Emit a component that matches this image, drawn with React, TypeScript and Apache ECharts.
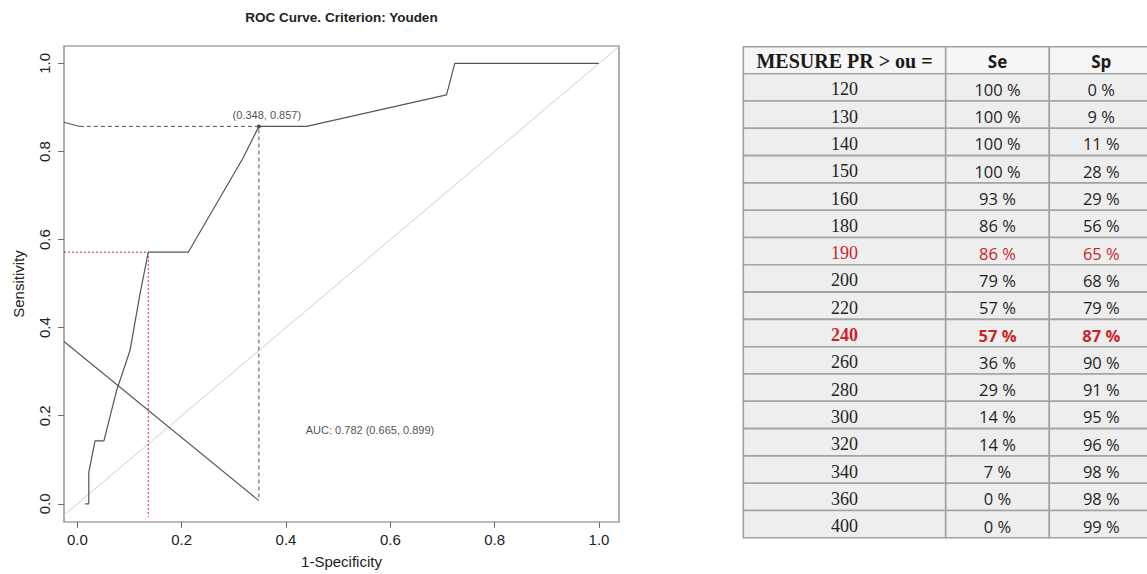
import React, { useEffect, useRef } from "react";
import * as echarts from "echarts";

// ROC curve (x = 1-Specificity, y = Sensitivity)
const rocX = [0.015, 0.022, 0.022, 0.034, 0.051, 0.0755, 0.101, 0.12, 0.136, 0.2126, 0.318, 0.348, 0.4395, 0.7077, 0.7236, 0.9994];
const rocY = [0, 0, 0.0714, 0.1429, 0.1429, 0.258, 0.348, 0.4755, 0.5714, 0.5714, 0.7857, 0.8571, 0.8571, 0.9286, 1.0, 1.0];

// axis range
const xMin = -0.0255;
const xMax = 1.0383;
const yMin = -0.0413;
const yMax = 1.0396;
const tickValues = [0, 0.2, 0.4, 0.6, 0.8, 1.0];

// reference / helper lines
const chanceX = [xMin, xMax];
const chanceY = [xMin, xMax];
const stubX = [xMin, 0.005];
const stubY = [0.8665, 0.857];
const fallX = [xMin, 0.348];
const fallY = [0.3685, 0.0074];
const youdenGuideX = [0.005, 0.348, 0.348];
const youdenGuideY = [0.857, 0.857, 0.0074];
const redGuideX = [xMin, 0.136, 0.136];
const redGuideY = [0.5714, 0.5714, -0.03];

// optimal point
const bestX = 0.348;
const bestY = 0.857;

// AUC
const auc = 0.782;
const aucLow = 0.665;
const aucHigh = 0.899;
const aucPosX = 0.561;
const aucPosY = 0.167;

// table
const tableHeaders = ["MESURE PR > ou =", "Se", "Sp"];
const thresholds = [120, 130, 140, 150, 160, 180, 190, 200, 220, 240, 260, 280, 300, 320, 340, 360, 400];
const seValues = [100, 100, 100, 100, 93, 86, 86, 79, 57, 57, 36, 29, 14, 14, 7, 0, 0];
const spValues = [0, 9, 11, 28, 29, 56, 65, 68, 79, 87, 90, 91, 95, 96, 98, 98, 99];
const redRows = [190];
const redBoldRows = [240];

const zip = (xs: number[], ys: number[]) => xs.map((x, i) => [x, ys[i]]);

function buildTable() {
  const left = 743.3;
  const colW = [202.4, 103.6, 104];
  const top = 46.7;
  const headH = 27;
  const rowH = 27.3;
  const border = "#a3a3a3";
  const els: any[] = [];
  const colX = [left, left + colW[0], left + colW[0] + colW[1]];
  // header
  tableHeaders.forEach((h, c) => {
    els.push({
      type: "rect",
      shape: { x: colX[c], y: top, width: colW[c], height: headH },
      style: { fill: "#f6f6f6", stroke: border, lineWidth: 1.6 },
    });
    els.push({
      type: "text",
      x: colX[c] + colW[c] / 2,
      y: top + headH / 2 + 1,
      style: {
        text: h,
        fill: "#1a1a1a",
        font: c === 0 ? "bold 20px 'Liberation Serif'" : "bold 17px 'Open Sans'",
        align: "center",
        verticalAlign: "middle",
        textAlign: "center",
        textVerticalAlign: "middle",
      },
    });
  });
  thresholds.forEach((t, r) => {
    const y = top + headH + r * rowH;
    const isRed = redRows.includes(t) || redBoldRows.includes(t);
    const isBold = redBoldRows.includes(t);
    const color = isRed ? "#c8262c" : "#1f1f1f";
    const cells = [String(t), seValues[r] + " %", spValues[r] + " %"];
    cells.forEach((txt, c) => {
      els.push({
        type: "rect",
        shape: { x: colX[c], y, width: colW[c], height: rowH },
        style: { fill: "#eeeeef", stroke: border, lineWidth: 1.6 },
      });
      els.push({
        type: "text",
        x: colX[c] + colW[c] / 2,
        y: y + rowH / 2 + 2,
        style: {
          text: txt,
          fill: color,
          font:
            c === 0
              ? (isBold ? "bold " : "") + "18px 'Liberation Serif'"
              : (isBold ? "bold " : "") + "16.5px 'Open Sans'",
          align: "center",
          verticalAlign: "middle",
          textAlign: "center",
          textVerticalAlign: "middle",
        },
      });
    });
  });
  return els;
}

export default function App() {
  const ref = useRef<HTMLDivElement>(null);
  useEffect(() => {
    if (!ref.current) return;
    const chart = echarts.init(ref.current, undefined, { renderer: "svg" });
    const axisColor = "#6a6a6a";
    const textColor = "#222222";
    chart.setOption({
      animation: false,
      backgroundColor: "#ffffff",
      textStyle: { fontFamily: "'Liberation Sans', Arial, sans-serif" },
      grid: {
        left: 64,
        top: 46,
        right: 1147 - 619,
        bottom: 574 - 527,
        show: true,
        borderColor: "#777777",
        borderWidth: 1.2,
        backgroundColor: "transparent",
        containLabel: false,
      },
      xAxis: {
        type: "value",
        min: xMin,
        max: xMax,
        axisLine: { show: false, onZero: false },
        splitLine: { show: false },
        axisTick: { show: true, length: 6, lineStyle: { color: axisColor }, customValues: tickValues },
        axisLabel: {
          customValues: tickValues,
          formatter: (v: number) => v.toFixed(1),
          fontSize: 15,
          color: textColor,
          margin: 10,
        },
        name: "1-Specificity",
        nameLocation: "middle",
        nameGap: 32,
        nameTextStyle: { fontSize: 15, color: textColor },
      },
      yAxis: {
        type: "value",
        min: yMin,
        max: yMax,
        axisLine: { show: false, onZero: false },
        splitLine: { show: false },
        axisTick: { show: true, length: 6, lineStyle: { color: axisColor }, customValues: tickValues },
        axisLabel: {
          customValues: tickValues,
          formatter: (v: number) => v.toFixed(1),
          fontSize: 15,
          color: textColor,
          margin: 12,
          rotate: 90,
        },
        name: "Sensitivity",
        nameLocation: "middle",
        nameGap: 38,
        nameTextStyle: { fontSize: 15, color: textColor },
      },
      series: [
        {
          type: "line",
          data: zip(chanceX, chanceY),
          showSymbol: false,
          lineStyle: { color: "#cfcfcf", width: 1 },
          silent: true,
        },
        {
          type: "line",
          data: zip(stubX, stubY),
          showSymbol: false,
          lineStyle: { color: "#555555", width: 1.1 },
        },
        {
          type: "line",
          data: zip(fallX, fallY),
          showSymbol: false,
          lineStyle: { color: "#555555", width: 1.1 },
        },
        {
          type: "line",
          data: zip(youdenGuideX, youdenGuideY),
          showSymbol: false,
          lineStyle: { color: "#555555", width: 1, type: [4, 3] },
        },
        {
          type: "line",
          data: zip(redGuideX, redGuideY),
          showSymbol: false,
          lineStyle: { color: "#e02020", width: 1, type: [2, 2] },
        },
        {
          type: "line",
          data: zip(rocX, rocY),
          showSymbol: false,
          lineStyle: { color: "#555555", width: 1.2 },
        },
        {
          type: "scatter",
          data: [[bestX, bestY]],
          symbol: "circle",
          symbolSize: 4,
          itemStyle: { color: "#111111" },
          label: {
            show: true,
            position: "top",
            distance: 4,
            offset: [8, 0],
            formatter: () => `(${bestX.toFixed(3)}, ${bestY.toFixed(3)})`,
            fontSize: 11,
            color: textColor,
          },
        },
        {
          type: "scatter",
          data: [[aucPosX, aucPosY]],
          symbolSize: 1,
          itemStyle: { color: "rgba(0,0,0,0)" },
          label: {
            show: true,
            position: "inside",
            formatter: () => `AUC: ${auc.toFixed(3)} (${aucLow.toFixed(3)}, ${aucHigh.toFixed(3)})`,
            fontSize: 11,
            color: textColor,
          },
        },
      ],
      graphic: [
        {
          type: "text",
          x: 341.5,
          y: 17,
          style: {
            text: "ROC Curve. Criterion: Youden",
            font: "bold 13.5px 'Liberation Sans'",
            fill: "#222222",
            align: "center",
            verticalAlign: "middle",
            textAlign: "center",
            textVerticalAlign: "middle",
          },
        },
        ...buildTable(),
      ],
    });
    return () => chart.dispose();
  }, []);
  return (
    <div
      ref={ref}
      style={{ position: "fixed", left: 0, top: 0, width: 1147, height: 574 }}
    />
  );
}
